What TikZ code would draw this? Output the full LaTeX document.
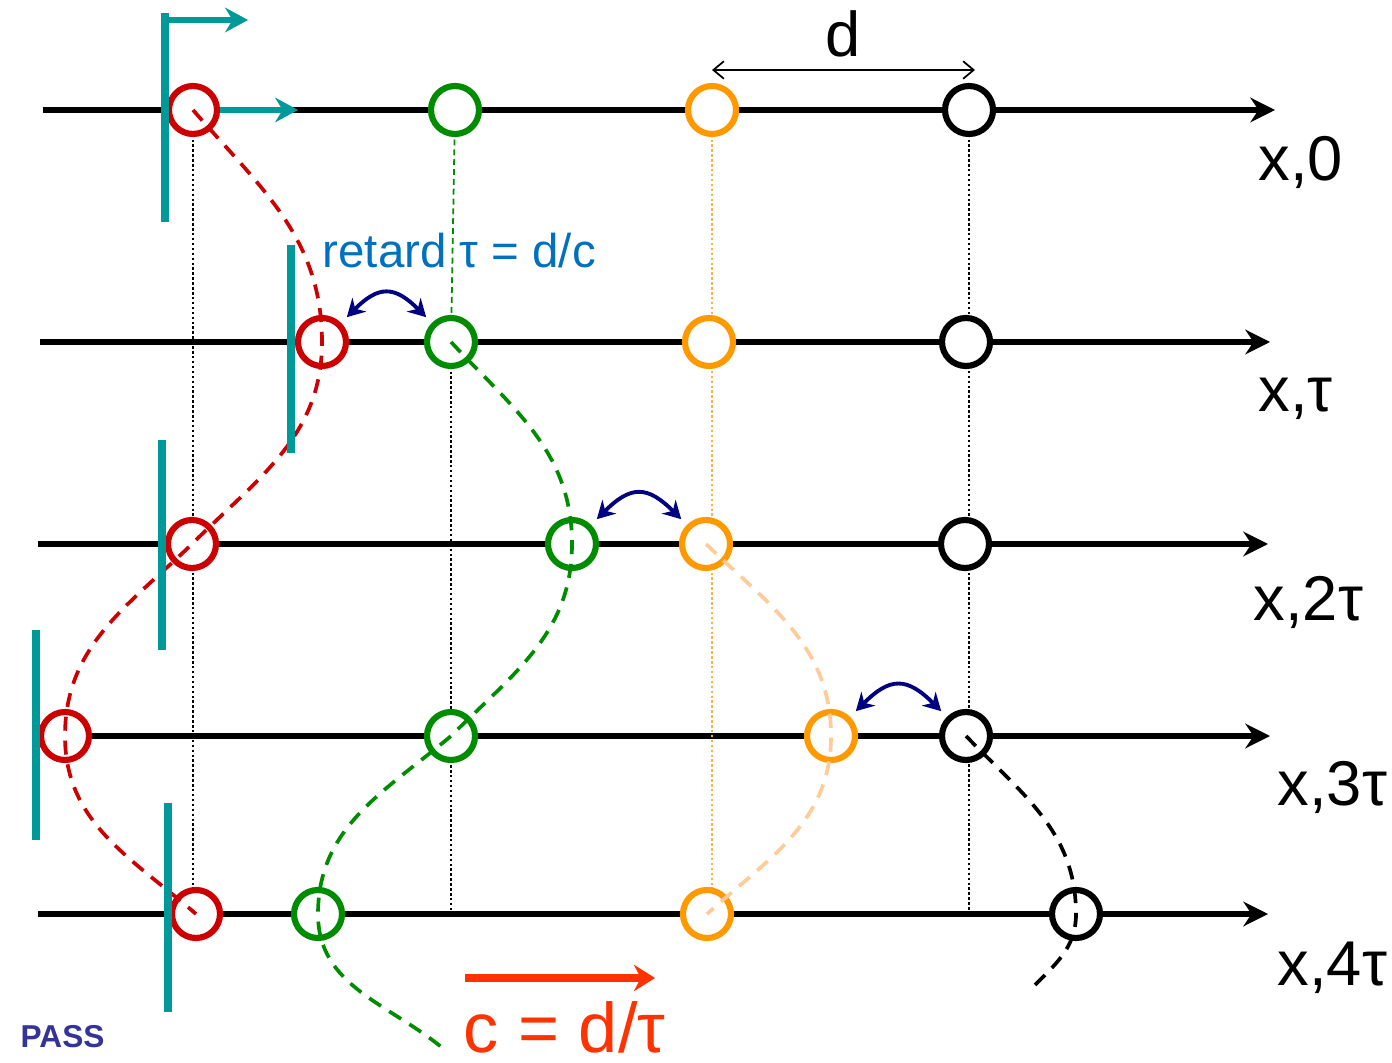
\documentclass[tikz,border=0pt]{standalone}
\usepackage{fontspec}
\setmainfont{Liberation Sans}
\usepackage{tikz}
\usetikzlibrary{calc,positioning}
\usetikzlibrary{arrows.meta,backgrounds}
\definecolor{wallteal}{RGB}{0,153,153}
\definecolor{pred}{RGB}{204,0,0}
\definecolor{pgreen}{RGB}{0,140,0}
\definecolor{porange}{RGB}{255,153,0}
\definecolor{ppeach}{RGB}{255,204,153}
\definecolor{swingnavy}{RGB}{0,0,128}
\definecolor{retardblue}{RGB}{0,112,192}
\definecolor{speedred}{RGB}{255,51,0}
\definecolor{passblue}{RGB}{51,51,153}

\begin{document}
\begin{tikzpicture}[
  ball/.style={circle,draw=#1,fill=white,line width=1.75pt,minimum size=4.8mm,inner sep=0pt},
  axis/.style={line width=1.7pt,-{Stealth[length=7pt,width=7pt]}},
  wall/.style={wallteal,line width=2pt},
  push/.style={wallteal,line width=1.5pt,-{Stealth[length=6.5pt,width=7pt]}},
  guide/.style={line width=0.3pt,dash pattern=on 0.7pt off 0.7pt},
  wave/.style={#1,line width=1.05pt,dash pattern=on 4pt off 2.8pt},
  swing/.style={swingnavy,line width=1.1pt,{Stealth[length=5pt,width=5.5pt]}-{Stealth[length=5pt,width=5.5pt]},looseness=1.5,shorten <=0.8mm,shorten >=0.8mm},
  big/.style={font=\fontsize{18}{20}\selectfont,inner sep=0pt}
]
				 \useasboundingbox (0,0) rectangle (139.2mm,106.2mm);
				 %\draw[color=gray,step=1mm, help lines,opacity=0.3] (0pt,0pt) grid (139.2mm,106.2mm); %help grids
				 % balls, row by row
				 \node[ball=pred] (r0) at (19.3mm,95.2mm) {};
				 \node[ball=pgreen] (g0) at (45.5mm,95.2mm) {};
				 \node[ball=porange] (o0) at (71.2mm,95.2mm) {};
				 \node[ball=black] (k0) at (96.9mm,95.2mm) {};
				 \node[ball=pred] (r1) at (32.2mm,72.0mm) {};
				 \node[ball=pgreen] (g1) at (45.1mm,72.0mm) {};
				 \node[ball=porange] (o1) at (70.9mm,72.0mm) {};
				 \node[ball=black] (k1) at (96.6mm,72.0mm) {};
				 \node[ball=pred] (r2) at (19.2mm,51.8mm) {};
				 \node[ball=pgreen] (g2) at (57.2mm,51.8mm) {};
				 \node[ball=porange] (o2) at (70.6mm,51.8mm) {};
				 \node[ball=black] (k2) at (96.5mm,51.8mm) {};
				 \node[ball=pred] (r3) at (6.5mm,32.6mm) {};
				 \node[ball=pgreen] (g3) at (45.1mm,32.6mm) {};
				 \node[ball=porange] (o3) at (83.1mm,32.6mm) {};
				 \node[ball=black] (k3) at (96.6mm,32.6mm) {};
				 \node[ball=pred] (r4) at (19.6mm,14.8mm) {};
				 \node[ball=pgreen] (g4) at (31.8mm,14.8mm) {};
				 \node[ball=porange] (o4) at (70.7mm,14.8mm) {};
				 \node[ball=black] (k4) at (107.6mm,14.8mm) {};
				 \coordinate (gend) at (44.5mm,1.2mm);
				 \coordinate (kend) at (103.5mm,7.7mm);
				 % axes and rest positions
				 \begin{scope}[on background layer]
				 \draw[axis] (4.3mm,95.2mm) -- (127.5mm,95.2mm);
				 \draw[axis] (4.0mm,72.0mm) -- (127.0mm,72.0mm);
				 \draw[axis] (3.8mm,51.8mm) -- (126.8mm,51.8mm);
				 \draw[axis] (r3.east) -- (127.0mm,32.6mm);
				 \draw[axis] (3.8mm,14.8mm) -- (126.8mm,14.8mm);
				 \draw[guide] (r0.center) -- (r0.center |- r4.center);
				 \draw[guide] (g1.center) -- (g1.center |- g4.center);
				 \draw[guide,porange!75] (o0.center) -- (o0.center |- o4.center);
				 \draw[guide] (k0.center) -- (k0.center |- k4.center);
				 \draw[pgreen,line width=0.5pt,dash pattern=on 1.7pt off 1.1pt] (g0.center) -- (g1.center);
				 \end{scope}
				 % paths of the balls
				 \draw[wave=pred] (r0.center) to[out=-49,in=90] (r1.center) to[out=-90,in=45] (r2.center)
				 to[out=-136,in=90] (r3.center) to[out=-90,in=139] (r4.center);
				 \draw[wave=pgreen] (g1.center) to[out=-47,in=90] (g2.center) to[out=-90,in=45] (g3.center)
				 to[out=-140,in=90] (g4.center) to[out=-90,in=140] (gend);
				 \draw[wave=ppeach] (o2.center) to[out=-44,in=90] (o3.center) to[out=-90,in=42] (o4.center);
				 \draw[wave=black] (k3.center) to[out=-46,in=90] (k4.center) to[out=-90,in=45] (kend);
				 % the moving wall
				 \draw[wall] (16.5mm,104.9mm) -- (16.5mm,84.0mm);
				 \coordinate (top0) at (16.9mm,104.2mm);
				 \draw[push] (top0) -- ++(7.9mm,0);
				 \draw[push] (r0.east) -- (29.8mm,95.2mm);
				 \draw[wall] (29.1mm,81.7mm) -- (29.1mm,60.9mm);
				 \draw[wall] (16.2mm,62.2mm) -- (16.2mm,41.2mm);
				 \draw[wall] (3.6mm,43.2mm) -- (3.6mm,22.2mm);
				 \draw[wall] (16.8mm,25.9mm) -- (16.8mm,5.0mm);
				 % coupling between neighbours
				 \draw[swing] (r1) to[out=45,in=135] (g1);
				 \draw[swing] (g2) to[out=45,in=135] (o2);
				 \draw[swing] (o3) to[out=45,in=135] (k3);
				 % spacing d
				 \coordinate (dleft) at (71.2mm,99.2mm);
				 \coordinate (dright) at (97.5mm,99.2mm);
				 \draw[line width=0.5pt,{Straight Barb[length=3pt,width=5pt]}-{Straight Barb[length=3pt,width=5pt]}] (dleft) -- (dright);
				 \node[big,anchor=base] (dlab) at (84.3mm,100.5mm) {d};
				 % time labels
				 \node[big,anchor=base west] (lab0) at (125.8mm,88.1mm) {x,0};
				 \node[big,anchor=base west] (lab1) at (125.8mm,65.0mm) {x,τ};
				 \node[big,anchor=base west] (lab2) at (125.3mm,44.2mm) {x,2τ};
				 \node[big,anchor=base west] (lab3) at (127.7mm,25.7mm) {x,3τ};
				 \node[big,anchor=base west] (lab4) at (127.7mm,7.7mm) {x,4τ};
				 \node[anchor=base west,inner sep=0pt,retardblue,font=\fontsize{13.5}{15}\selectfont] (retard) at (32.2mm,79.4mm) {retard τ = d/c};
				 % wave speed
				 \coordinate (cleft) at (46.5mm,8.4mm);
				 \coordinate (cright) at (65.5mm,8.4mm);
				 \draw[speedred,line width=2.3pt,-{Stealth[length=6pt,width=7.5pt]}] (cleft) -- (cright);
				 \node[anchor=base west,inner sep=0pt,speedred,font=\fontsize{20}{22}\selectfont] (speed) at (46.3mm,1.0mm) {c = d/τ};
				 \node[anchor=base west,inner sep=0pt,passblue,font=\bfseries\fontsize{9}{10}\selectfont] (pass) at (2.0mm,1.5mm) {PASS};
\end{tikzpicture}
\end{document}
